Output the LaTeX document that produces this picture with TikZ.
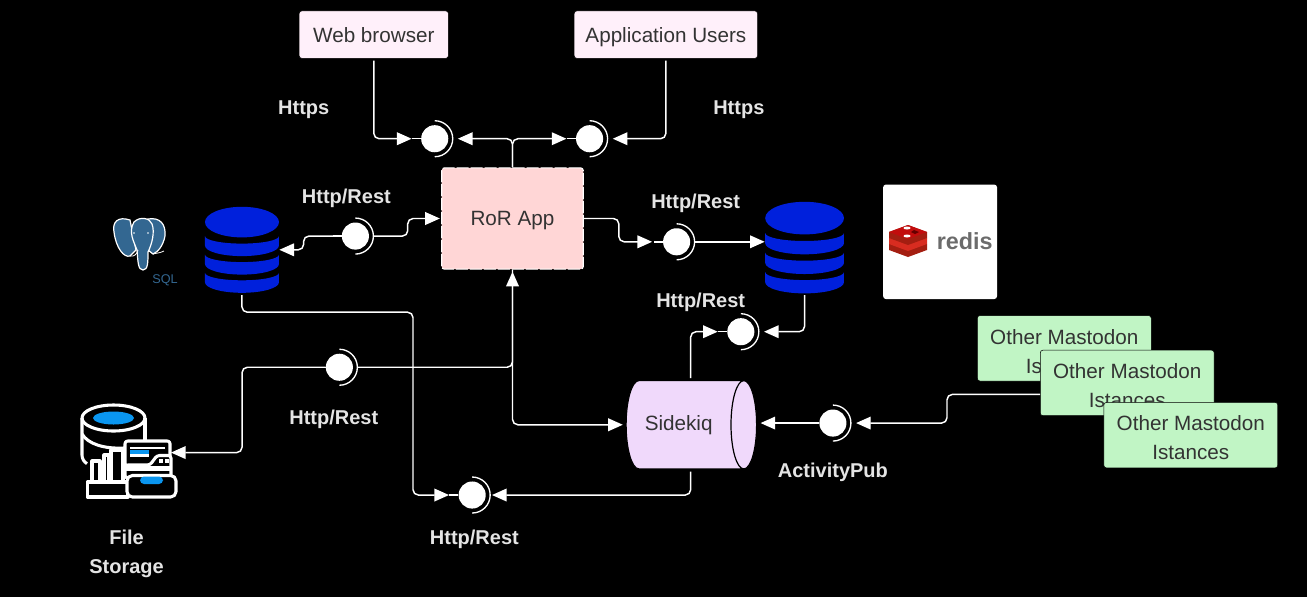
\documentclass[tikz,border=0pt]{standalone}
\usepackage{fontspec}
\setmainfont{Liberation Sans}
\usepackage{xcolor}
\usetikzlibrary{positioning}
\usetikzlibrary{arrows.meta}
\usetikzlibrary{shapes.geometric}
\definecolor{web-fill}{HTML}{FFF0FA}
\definecolor{app-fill}{HTML}{FFD6D6}
\definecolor{job-fill}{HTML}{F0D9FB}
\definecolor{inst-fill}{HTML}{C1F5C5}
\definecolor{db-blue}{HTML}{0020DC}
\definecolor{file-blue}{HTML}{0A96F0}
\definecolor{pg-blue}{HTML}{336791}
\definecolor{ink}{HTML}{333333}
\definecolor{label-gray}{HTML}{E4E4E4}
\newcommand{\instname}{\rule{0pt}{15.5pt}Other Mastodon\\Istances}
\begin{document}
\begin{tikzpicture}
[
x=0.75pt, y=-0.75pt, on grid,
box-a/.style={rectangle, draw=black, fill=web-fill, text=ink, rounded corners=2pt, minimum height=12.51mm, inner sep=0pt, font=\fontsize{15.5}{21.7}\selectfont},
box-b/.style={box-a, text height=14.2pt, text depth=3pt},
inst-a/.style={box-a, fill=inst-fill, align=center, minimum width=45.85mm, minimum height=17.28mm},
sock-a/.style={circle, fill=white, minimum size=7.14mm, inner sep=0pt},
db-a/.style={rectangle, minimum width=19.58mm, minimum height=22.75mm, inner sep=0pt},
text-a/.style={text=label-gray, align=center, inner sep=0pt, font=\fontsize{15}{21.7}\selectfont\bfseries},
text-b/.style={text-a, text height=13.6pt, text depth=3pt},
line-a/.style={draw=white, line width=1.1pt, rounded corners=4pt, -{Triangle[length=11pt, width=9.5pt]}},
to-sock/.style={shorten >=7pt},
icon-a/.style={draw=white, line width=2.3pt, line join=round}
]
\path[use as bounding box, fill=black] (0,0) rectangle (1307,597);

\node (app)         [box-b, fill=app-fill, minimum width=37.31mm, minimum height=26.72mm, draw=white, line width=0.8pt, dash pattern=on 9pt off 1.5pt] at (512.5,218.5) {RoR App};
\node (sock-web)    [sock-a, above left  = 21.03mm and 20.50mm of app] {};
\node (sock-users)  [sock-a, above right = 21.03mm and 20.32mm of app] {};
\node (web)         [box-b, minimum width=39.34mm, above left  = 27.44mm and 16.06mm of sock-web] {Web browser};
\node (users)       [box-b, minimum width=48.34mm, above right = 27.44mm and 20.11mm of sock-users] {Application Users};
\node (sock-pg)     [sock-a, below left  = 04.63mm and 41.41mm of app] {};
\node (db-pg)       [db-a,   below left  = 03.62mm and 29.90mm of sock-pg] {};
\node (sock-redis)  [sock-a, below right = 06.14mm and 43.26mm of app] {};
\node (db-redis)    [db-a, minimum width=20.90mm, minimum height=24.24mm, below right = 01.53mm and 33.73mm of sock-redis] {};
\node (sock-queue)  [sock-a, below left  = 22.17mm and 16.80mm of db-redis] {};
\node (sidekiq)     [cylinder, shape border rotate=0, shape aspect=1.33, draw=black, line width=0.9pt, cylinder uses custom fill, cylinder body fill=job-fill, cylinder end fill=job-fill, minimum width=23.28mm, minimum height=34.40mm, inner sep=0pt, text=ink, font=\fontsize{15.5}{21.7}\selectfont, below left = 24.53mm and 14.81mm of sock-queue] {\mbox{Sidekiq\hspace{9pt}}};
\node (sock-act)    [sock-a, above right = 00.45mm and 39.08mm of sidekiq] {};
\node (sock-job)    [sock-a, below left  = 18.52mm and 56.01mm of sidekiq] {};
\node (sock-store)  [sock-a, below left  = 39.21mm and 45.64mm of app] {};
\node (store)       [rectangle, minimum width=24.87mm, minimum height=25.00mm, inner sep=0pt, below left = 22.49mm and 56.89mm of sock-store] {};
\node (inst-1)      [inst-a] at (1064.3,348.3) {\instname};
\node (inst-2)      [inst-a, below right = 09.13mm and 16.59mm of inst-1] {\instname};
\node (inst-3)      [inst-a, below right = 13.76mm and 16.75mm of inst-2] {\instname};
\node (redis-card)  [rectangle, fill=white, rounded corners=2pt, minimum width=30.00mm, minimum height=30.16mm, inner sep=0pt, right = 69.45mm of sock-redis] {};
\node (redis-word)  [text=black!58, inner sep=0pt, font=\fontsize{17.5}{20}\selectfont\bfseries, above right = 00.26mm and 06.50mm of redis-card] {redis};

\node (https-1)     [text-b, above left  = 08.20mm and 34.53mm of sock-web] {Https};
\node (https-2)     [text-b, above right = 08.20mm and 39.34mm of sock-users] {Https};
\node (rest-pg)     [text-b, above left  = 10.58mm and 02.38mm of sock-pg] {Http/Rest};
\node (rest-redis)  [text-b, above right = 10.77mm and 05.03mm of sock-redis] {Http/Rest};
\node (rest-queue)  [text-b, above left  = 08.28mm and 10.58mm of sock-queue] {Http/Rest};
\node (rest-store)  [text-b, below left  = 13.31mm and 01.46mm of sock-store] {Http/Rest};
\node (rest-job)    [text-b, below right = 11.20mm and 00.58mm of sock-job] {Http/Rest};
\node (act-label)   [text-b, below       = 12.60mm of sock-act] {ActivityPub};
\node (store-label) [text-a, below right = 26.67mm and 00.80mm of store] {File\\Storage};
\node (sql-label)   [text=pg-blue, inner sep=0pt, font=\fontsize{9.5}{11}\selectfont, below left = 07.94mm and 20.27mm of db-pg] {SQL};

\foreach \sock in {sock-web, sock-users, sock-pg, sock-redis, sock-queue, sock-act, sock-job, sock-store} {
  \draw[draw=white, line width=1pt] ([yshift=13.5pt]\sock.center) arc[start angle=90, end angle=-90, radius=13.5pt];
  \draw[draw=white, line width=1.1pt] (\sock.west) -- ++(-9,0);
}

\foreach \db/\s in {db-pg/1, db-redis/1.065} {
  \begin{scope}[shift=(\db.center), scale=\s]
    \fill[db-blue] (0,-27.7) ellipse [x radius=37, y radius=15.3];
    \foreach \yb in {6.3, 24.8, 43} {
      \fill[db-blue] (-37,\yb-20) -- (-37,\yb-10.5) arc[start angle=180, end angle=0, x radius=37, y radius=10.5] -- (37,\yb-20) arc[start angle=0, end angle=180, x radius=37, y radius=7.5] -- cycle;
    }
  \end{scope}
}

\draw[line-a, to-sock, shorten <=1.5pt] (web.south) |- (sock-web.west);
\draw[line-a, to-sock, shorten <=1.5pt] (users.south) |- (sock-users.east);
\draw[line-a, to-sock] (app.north) |- (sock-web.east);
\draw[line-a, to-sock] (app.north) |- (sock-users.west);
\draw[line-a] (sock-pg.west) -- ++(-38,0) |- (db-pg.east);
\draw[line-a, shorten <=3pt, shorten >=1pt] (sock-pg.east) -- ++(38.5,0) |- (app.west);
\draw[line-a, shorten >=8pt] (app.east) -- ++(35,0) |- (sock-redis.west);
\draw[line-a, shorten <=3pt] (sock-redis.east) -- (sock-redis.east -| db-redis.west);
\draw[line-a, to-sock, shorten <=1pt] (db-redis.south) |- (sock-queue.east);
\draw[line-a, to-sock, shorten <=1.5pt] ([xshift=4.5pt]sidekiq.north) |- (sock-queue.west);
\draw[line-a, {Triangle[length=11pt, width=9.5pt]}-{Triangle[length=11pt, width=9.5pt]}, shorten <=1.5pt, shorten >=2pt] (app.south) |- (sidekiq.west);
\draw[line-a, -, shorten <=3pt] (sock-store.east) -| (app.south);
\draw[line-a] (sock-store.west) -- ++(-83.5,0) |- (store.east);
\draw[line-a, to-sock, shorten <=1.5pt] (db-pg.south) -- ++(0,19) -| (413,400) |- (sock-job.west);
\draw[line-a, shorten >=4.5pt, shorten <=1.5pt] ([xshift=4.5pt]sidekiq.south) |- (sock-job.east);
\draw[line-a, to-sock] ([yshift=-8.6pt]inst-2.west) -- ++(-93,0) |- (sock-act.east);
\draw[line-a, shorten >=2.5pt] (sock-act.west) -- (sock-act.west -| sidekiq.east);

\draw[fill=pg-blue, draw=white, line width=0.9pt] (130,220) .. controls (118,216) and (112,222) .. (114,232) .. controls (116,248) and (124,258) .. (130,256) -- (136,250) -- cycle;
\draw[fill=pg-blue, draw=white, line width=0.9pt] (148,219) .. controls (160,217) and (166,224) .. (165,236) .. controls (163,246) and (158,252) .. (153,254) -- (148,250) -- cycle;
\draw[fill=pg-blue, draw=white, line width=0.9pt] (134,222) .. controls (140,216) and (150,218) .. (152,224) .. controls (155,232) and (152,244) .. (148,252) .. controls (148,262) and (148,270) .. (143,270) .. controls (138,270) and (138,262) .. (137,250) .. controls (134,242) and (128,232) .. (134,222) -- cycle;
\draw[white, line width=0.6pt] (130,256) .. controls (134,257) and (137,254) .. (138,250);
\draw[white, line width=0.6pt] (153,254) .. controls (157,253) and (160,253) .. (164,251);
\fill[white] (134,233) circle [radius=0.8];
\fill[white] (148,233) circle [radius=0.8];

\foreach \lay/\col in {12/A41E11, 6/D82C20, 0/A41E11} {
  \definecolor{lay-col}{HTML}{\col}
  \fill[lay-col] (889,232+\lay) -- (908,225+\lay) -- (927,232+\lay) -- (927,238+\lay) -- (908,245+\lay) -- (889,238+\lay) -- cycle;
}
\fill[red!75!black!95] (889,232) -- (908,225) -- (927,232) -- (908,239) -- cycle;
\fill[white] (907,228) ellipse [x radius=3.5, y radius=1.5];
\fill[white] (907,236) ellipse [x radius=3.5, y radius=1.5];
\fill[red!40!black] (919,232) -- (914,230) -- (911,232) -- (915,234) -- cycle;

\draw[icon-a] (113.5,418) ellipse [x radius=31.5, y radius=13];
\fill[file-blue] (113.5,418) ellipse [x radius=20.5, y radius=6.5];
\draw[icon-a] (82,418) -- (82,455) arc[start angle=180, end angle=120, radius=10];
\draw[icon-a] (145,418) -- (145,440);
\draw[icon-a] (82,434) .. controls (88,444) and (104,449) .. (124,448);
\draw[icon-a] (87.3,497) rectangle (128,482);
\draw[icon-a] (92,482) -- (92,461) -- (100,461) -- (100,482);
\draw[icon-a] (104,482) -- (104,455) -- (109,455) -- (109,482);
\draw[icon-a] (111,482) -- (111,450) -- (123,450) -- (123,482);
\draw[icon-a, fill=black, rounded corners=2pt] (125,466) -- (125,441) -- (170,441) -- (170,466) -- cycle;
\draw[white, line width=1.5pt] (130,448) -- (165,448);
\fill[file-blue] (130,449.5) rectangle (149,453.5);
\fill[white] (130,454) rectangle (149,456.5);
\draw[icon-a, fill=black, rounded corners=2pt] (125,478) -- (125,465) -- (150,465) -- (157,455.5) -- (171,455.5) -- (171,478) -- cycle;
\fill[white] (158.5,458.5) rectangle (162.5,462.5);
\fill[white] (165,458.5) rectangle (169,462.5);
\fill[white] (125,466) rectangle (171,471);
\draw[icon-a, fill=black, rounded corners=4pt] (127,475.5) -- (176,475.5) -- (176,497) -- (127,497) -- cycle;
\fill[file-blue, rounded corners=3pt] (140,476.5) -- (163,476.5) -- (163,484) -- (140,484) -- cycle;
\end{tikzpicture}
\end{document}
